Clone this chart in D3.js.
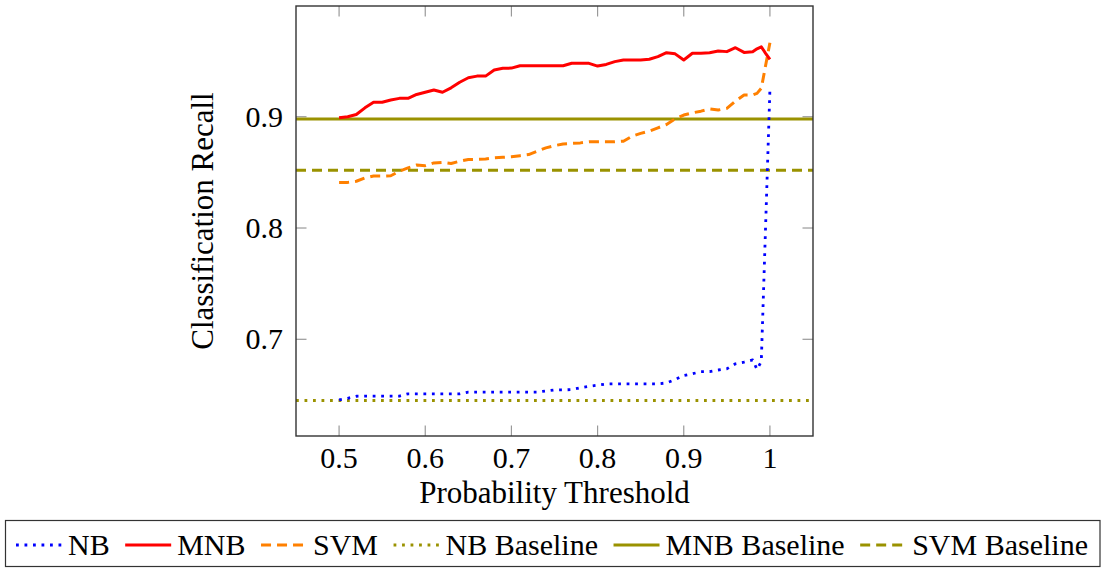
<!DOCTYPE html>
<html>
<head>
<meta charset="utf-8">
<script src="https://cdn.jsdelivr.net/npm/d3@7"></script>
<style>
  html, body { margin: 0; padding: 0; background: #fff; }
  svg { display: block; }
  text { font-family: "Liberation Serif", "DejaVu Serif", serif; fill: #000; }
</style>
</head>
<body>
<svg id="chart" width="1103" height="569"></svg>
<script>
// ---- data ----
const thresholds = [0.50,0.51,0.52,0.53,0.54,0.55,0.56,0.57,0.58,0.59,
  0.60,0.61,0.62,0.63,0.64,0.65,0.66,0.67,0.68,0.69,
  0.70,0.71,0.72,0.73,0.74,0.75,0.76,0.77,0.78,0.79,
  0.80,0.81,0.82,0.83,0.84,0.85,0.86,0.87,0.88,0.89,
  0.90,0.91,0.92,0.93,0.94,0.95,0.96,0.97,0.98,0.985,0.99,0.995,1.00];

const nbRecall = [0.6455,0.647,0.6488,0.649,0.649,0.649,0.649,0.649,0.651,0.651,
  0.651,0.651,0.651,0.651,0.651,0.6526,0.6526,0.6526,0.6526,0.6526,
  0.6526,0.6526,0.6526,0.6526,0.6535,0.6545,0.6545,0.6548,0.6565,0.6578,
  0.6588,0.6598,0.660,0.660,0.660,0.660,0.660,0.660,0.6608,0.6638,
  0.6675,0.669,0.6709,0.671,0.6724,0.6735,0.678,0.6795,0.6815,0.673,0.680,0.802,0.9245];

const mnbRecall = [0.899,0.900,0.902,0.908,0.913,0.913,0.915,0.9165,0.9165,0.920,
  0.922,0.924,0.922,0.926,0.931,0.935,0.9365,0.9365,0.942,0.9435,
  0.9437,0.9458,0.9458,0.9458,0.9458,0.9458,0.9458,0.948,0.948,0.948,
  0.9455,0.947,0.9495,0.951,0.951,0.951,0.9516,0.954,0.9575,0.9565,
  0.951,0.957,0.957,0.9575,0.959,0.9585,0.962,0.9578,0.9584,0.961,0.9628,0.957,0.9516];

const svmRecall = [0.841,0.841,0.842,0.845,0.8467,0.8467,0.847,0.851,0.854,0.8566,
  0.856,0.8585,0.859,0.858,0.860,0.8615,0.8617,0.862,0.863,0.8635,
  0.864,0.865,0.866,0.869,0.872,0.874,0.8755,0.876,0.8765,0.8775,
  0.8775,0.8775,0.8775,0.878,0.8825,0.885,0.887,0.890,0.893,0.898,
  0.9015,0.9035,0.905,0.907,0.906,0.9075,0.914,0.9195,0.9195,0.921,0.9255,0.946,0.9665];

const nbBaseline = 0.645;
const mnbBaseline = 0.898;
const svmBaseline = 0.852;

const xTicks = [0.5, 0.6, 0.7, 0.8, 0.9, 1.0];
const xTickLabels = ["0.5", "0.6", "0.7", "0.8", "0.9", "1"];
const yTicks = [0.7, 0.8, 0.9];
const yTickLabels = ["0.7", "0.8", "0.9"];
const legendLabels = ["NB", "MNB", "SVM", "NB Baseline", "MNB Baseline", "SVM Baseline"];

// ---- layout ----
const svg = d3.select("#chart");
const L = 296, R = 813, T = 6, B = 436;
const x = d3.scaleLinear().domain([0.45, 1.05]).range([L, R]);
const y = d3.scaleLinear().domain([0.6131, 0.9995]).range([B, T]);

const styles = {
  NB:  { color: "#0000ff", width: 2.8, dash: "2.8,5.7", cap: "butt" },
  MNB: { color: "#ff0000", width: 3, dash: null },
  SVM: { color: "#ff8000", width: 3, dash: "10,6" },
  "NB Baseline":  { color: "#9a9200", width: 2.8, dash: "2.8,5.7" },
  "MNB Baseline": { color: "#9a9200", width: 3, dash: null },
  "SVM Baseline": { color: "#9a9200", width: 3, dash: "10,6" }
};

svg.append("defs").append("clipPath").attr("id", "clip")
  .append("rect").attr("x", L).attr("y", T).attr("width", R - L).attr("height", B - T);

// ticks (inside, mirrored)
const tickLen = 10.5;
const g = svg.append("g");
xTicks.forEach(v => {
  g.append("line").attr("x1", x(v)).attr("x2", x(v)).attr("y1", B).attr("y2", B - tickLen)
    .attr("stroke", "#999").attr("stroke-width", 1.2);
  g.append("line").attr("x1", x(v)).attr("x2", x(v)).attr("y1", T).attr("y2", T + tickLen)
    .attr("stroke", "#999").attr("stroke-width", 1.2);
});
yTicks.forEach(v => {
  g.append("line").attr("x1", L).attr("x2", L + tickLen).attr("y1", y(v)).attr("y2", y(v))
    .attr("stroke", "#999").attr("stroke-width", 1.2);
  g.append("line").attr("x1", R).attr("x2", R - tickLen).attr("y1", y(v)).attr("y2", y(v))
    .attr("stroke", "#999").attr("stroke-width", 1.2);
});

// tick labels
xTicks.forEach((v, i) => {
  svg.append("text").attr("x", x(v)).attr("y", 468).attr("text-anchor", "middle")
    .attr("font-size", 30).text(xTickLabels[i]);
});
yTicks.forEach((v, i) => {
  svg.append("text").attr("x", 283).attr("y", y(v) + 10).attr("text-anchor", "end")
    .attr("font-size", 30).text(yTickLabels[i]);
});

// series
const plot = svg.append("g").attr("clip-path", "url(#clip)");
const lineGen = d3.line().x(d => x(d[0])).y(d => y(d[1]));

function drawLine(data, st) {
  const p = plot.append("path").datum(data).attr("d", lineGen)
    .attr("fill", "none").attr("stroke", st.color).attr("stroke-width", st.width)
    .attr("stroke-linejoin", "round");
  if (st.dash) p.attr("stroke-dasharray", st.dash);
  return p;
}

// baselines
drawLine([[0.45, nbBaseline], [1.05, nbBaseline]], styles["NB Baseline"]);
drawLine([[0.45, svmBaseline], [1.05, svmBaseline]], styles["SVM Baseline"]);
drawLine([[0.45, mnbBaseline], [1.05, mnbBaseline]], styles["MNB Baseline"]);

drawLine(thresholds.map((t, i) => [t, svmRecall[i]]), styles.SVM);
drawLine(thresholds.map((t, i) => [t, mnbRecall[i]]), styles.MNB);
drawLine(thresholds.map((t, i) => [t, nbRecall[i]]), styles.NB);

// frame
svg.append("rect").attr("x", L).attr("y", T).attr("width", R - L).attr("height", B - T)
  .attr("fill", "none").attr("stroke", "#333").attr("stroke-width", 1.4);

// axis titles
svg.append("text").attr("x", (L + R) / 2).attr("y", 503).attr("text-anchor", "middle")
  .attr("font-size", 31).text("Probability Threshold");
svg.append("text").attr("transform", `translate(213,${(T + B) / 2}) rotate(-90)`)
  .attr("text-anchor", "middle").attr("font-size", 31).text("Classification Recall");

// legend
const lg = svg.append("g");
lg.append("rect").attr("x", 5.5).attr("y", 520.5).attr("width", 1094.5).attr("height", 46)
  .attr("fill", "#fff").attr("stroke", "#333").attr("stroke-width", 1.2);
const sampleLen = 46, sampleGap = 6;
const startX = 16, endX = 1088, baseY = 555;
const texts = legendLabels.map(lab => lg.append("text").attr("font-size", 30).attr("y", baseY).text(lab));
const widths = texts.map(t => t.node().getComputedTextLength());
const used = widths.reduce((a, b) => a + b, 0) + legendLabels.length * (sampleLen + sampleGap);
const itemGap = (endX - startX - used) / (legendLabels.length - 1);
let cx = startX;
legendLabels.forEach((lab, i) => {
  const st = styles[lab];
  const ln = lg.append("line").attr("x1", cx).attr("x2", cx + sampleLen)
    .attr("y1", baseY - 10).attr("y2", baseY - 10)
    .attr("stroke", st.color).attr("stroke-width", st.width);
  if (st.dash) ln.attr("stroke-dasharray", st.dash);
  texts[i].attr("x", cx + sampleLen + sampleGap);
  cx += sampleLen + sampleGap + widths[i] + itemGap;
});
</script>
</body>
</html>
